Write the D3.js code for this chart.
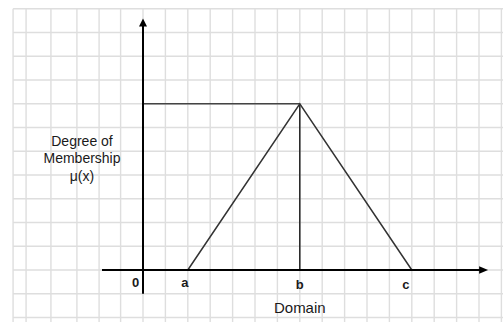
<!DOCTYPE html>
<html>
<head>
<meta charset="utf-8">
<script src="https://cdn.jsdelivr.net/npm/d3@7"></script>
<style>
  html, body { margin: 0; padding: 0; background: #fff; }
  text { font-family: "Liberation Sans", Arial, sans-serif; fill: #1a1a1a; }
</style>
</head>
<body>
<div id="chart"></div>
<script>
// grid lines, in grid-cell units (x: columns, y: rows)
var gridCols = [-5.8, -5.22, -4.11, -2.95, -1.96, -1, 0, 1, 2, 3, 4, 5, 6, 7, 8, 9, 10, 11, 12, 13, 14, 15, 16];
var gridRows = [-2, -1, 0, 1, 2, 3, 4, 5, 6, 7, 8, 9, 10, 11];

// triangular membership function
var pointNames = ["a", "b", "c"];
var pointX = [2, 7, 12];
var membership = [0, 1, 0];

var yTitle = ["Degree of", "Membership", "\u03bc(x)"];
var xTitle = "Domain";

var width = 503, height = 322;

var svg = d3.select("#chart")
  .append("svg")
    .attr("width", width)
    .attr("height", height);

var x = d3.scaleLinear().domain([0, 16]).range([143, 501.4]);
var y = d3.scaleLinear().domain([0, 11]).range([270, 8.75]);
// membership 0..1 spans 7 rows of the grid
var mu = d3.scaleLinear().domain([0, 1]).range([y(0), y(7)]);

// grid
var grid = svg.append("g")
  .attr("stroke", "#dedede")
  .attr("stroke-width", 1.4);

grid.selectAll("vLines")
  .data(gridCols)
  .enter()
  .append("line")
  .attr("x1", d => x(d))
  .attr("x2", d => x(d))
  .attr("y1", y(11))
  .attr("y2", height)

grid.selectAll("hLines")
  .data(gridRows)
  .enter()
  .append("line")
  .attr("x1", x(gridCols[0]))
  .attr("x2", width)
  .attr("y1", d => y(d))
  .attr("y2", d => y(d))

// guide lines to the peak
var peak = membership.indexOf(1);
svg.append("line")
  .attr("x1", x(0))
  .attr("x2", x(pointX[peak]))
  .attr("y1", mu(1))
  .attr("y2", mu(1))
  .attr("stroke", "#444")
  .attr("stroke-width", 1.6)

svg.append("line")
  .attr("x1", x(pointX[peak]))
  .attr("x2", x(pointX[peak]))
  .attr("y1", mu(1))
  .attr("y2", mu(0))
  .attr("stroke", "#222")
  .attr("stroke-width", 1.5)

// triangle
var line = d3.line()
  .x((d, i) => x(pointX[i]))
  .y(d => mu(d))

svg.append("path")
  .datum(membership)
  .attr("d", line)
  .attr("fill", "none")
  .attr("stroke", "#333")
  .attr("stroke-width", 1.5)

// axes with arrow heads
var axisX0 = -1.83, axisX1 = 15.05, axisY0 = -1, axisY1 = 10.3;

svg.append("line")
  .attr("x1", x(axisX0))
  .attr("x2", x(axisX1))
  .attr("y1", y(0))
  .attr("y2", y(0))
  .attr("stroke", "#000")
  .attr("stroke-width", 2)

svg.append("path")
  .attr("d", `M${x(axisX1) - 1},${y(0) - 3.8} L${x(axisX1) + 8},${y(0)} L${x(axisX1) - 1},${y(0) + 3.8} Z`)
  .attr("fill", "#000")

svg.append("line")
  .attr("x1", x(0))
  .attr("x2", x(0))
  .attr("y1", y(axisY0))
  .attr("y2", y(axisY1))
  .attr("stroke", "#000")
  .attr("stroke-width", 2)

svg.append("path")
  .attr("d", `M${x(0) - 4},${y(axisY1) + 1} L${x(0)},${y(axisY1) - 7} L${x(0) + 4},${y(axisY1) + 1} Z`)
  .attr("fill", "#000")

// tick labels
var labelShift = {a: [-3, 17], b: [0, 19], c: [-6, 19]};

svg.append("text")
  .attr("x", x(0) - 7.5)
  .attr("y", y(0) + 17)
  .attr("text-anchor", "middle")
  .attr("font-size", 13)
  .attr("font-weight", "bold")
  .text("0")

svg.selectAll("ptLabels")
  .data(pointNames)
  .enter()
  .append("text")
  .attr("x", (d, i) => x(pointX[i]) + labelShift[d][0])
  .attr("y", d => y(0) + labelShift[d][1])
  .attr("text-anchor", "middle")
  .attr("font-size", 13)
  .attr("font-weight", "bold")
  .text(d => d)

// axis titles
svg.append("text")
  .attr("x", x(pointX[peak]))
  .attr("y", 312.5)
  .attr("text-anchor", "middle")
  .attr("font-size", 15)
  .text(xTitle)

svg.selectAll("yTitle")
  .data(yTitle)
  .enter()
  .append("text")
  .attr("x", 82)
  .attr("y", (d, i) => [146, 162.5, 181][i])
  .attr("text-anchor", "middle")
  .attr("font-size", 14)
  .text(d => d)
</script>
</body>
</html>
